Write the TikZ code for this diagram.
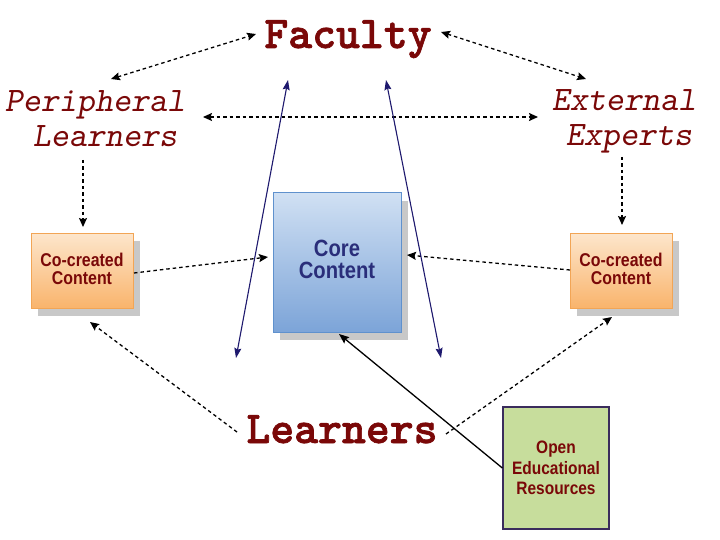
\documentclass[tikz,border=0pt]{standalone}
\usepackage{fontspec}
\setmainfont{Liberation Sans}
\newfontfamily\narrowfont[FakeStretch=0.86]{Liberation Sans}
\newfontfamily\ttheavy[FakeBold=1.5]{lmmonolt10-bold.otf}
\newfontfamily\ttslant{lmmonoslant10-regular.otf}
\usetikzlibrary{arrows.meta,shadows}
\definecolor{maroon}{RGB}{122,8,8}
\definecolor{coretext}{RGB}{42,46,122}
\definecolor{navyline}{RGB}{30,25,110}
\definecolor{shadowgray}{RGB}{200,200,200}
\definecolor{coretop}{RGB}{208,224,243}
\definecolor{corebot}{RGB}{124,164,216}
\definecolor{coreborder}{RGB}{95,145,205}
\definecolor{cotop}{RGB}{253,230,204}
\definecolor{cobot}{RGB}{249,180,108}
\definecolor{coborder}{RGB}{242,165,85}
\definecolor{oerfill}{RGB}{199,221,156}
\definecolor{oerborder}{RGB}{58,44,92}
\tikzset{
  bigword/.style={font=\ttheavy\fontsize{45.5}{45}\selectfont, text=maroon, inner sep=0pt},
  sideword/.style={font=\ttslant\fontsize{34.3}{35}\selectfont, text=maroon, inner sep=0pt, align=center},
  boxshadow/.style={drop shadow={shadow xshift=7pt,shadow yshift=-8pt,fill=shadowgray,opacity=1}},
  corebox/.style={boxshadow, draw=coreborder, line width=1pt, top color=coretop, bottom color=corebot,
     minimum width=128pt, minimum height=139pt, inner sep=0pt, align=center, text=coretext, text depth=7pt,
     font=\narrowfont\bfseries\fontsize{23.5}{22}\selectfont},
  cobox/.style={boxshadow, draw=coborder, line width=1pt, top color=cotop, bottom color=cobot,
     minimum width=102pt, minimum height=75pt, inner sep=0pt, align=center, text=maroon, text depth=4pt,
     font=\narrowfont\bfseries\fontsize{18.5}{18}\selectfont},
  oerbox/.style={draw=oerborder, line width=1.3pt, fill=oerfill,
     minimum width=106pt, minimum height=122pt, inner sep=0pt, align=center, text=maroon,
     font=\narrowfont\bfseries\fontsize{18}{20.5}\selectfont},
  dashlink/.style={line width=1.3pt, dash pattern=on 3.5pt off 3pt, -{Stealth[length=9pt,width=8pt,inset=1.5pt]}},
  dashboth/.style={dashlink, {Stealth[length=9pt,width=8pt,inset=1.5pt]}-{Stealth[length=9pt,width=8pt,inset=1.5pt]}},
  bluelink/.style={line width=1.1pt, draw=navyline, {Stealth[length=10pt,width=7pt,inset=1.5pt]}-{Stealth[length=10pt,width=7pt,inset=1.5pt]}},
  solidlink/.style={line width=1.3pt, -{Stealth[length=10pt,width=8pt,inset=1.5pt]}}
}
\begin{document}
\begin{tikzpicture}[x=1pt,y=-1pt]
\useasboundingbox[fill=white] (0,0) rectangle (720,540);

% text labels
\node[bigword, anchor=base] (fac) at (348,48) {Faculty};
\node[bigword, anchor=base] (lrn) at (342,443) {Learners};
\node[sideword] (per) at (95,118.5) {Peripheral\\\hspace*{20pt}Learners};
\node[sideword] (ext) at (624,121) {External\\\hspace*{10pt}Experts};

% boxes
\node[corebox] (core) at (337,262.5) {Core\\Content};
\node[cobox] (cl) at (82,270.5) {Co-created\\Content};
\node[cobox] (cr) at (621,270.5) {Co-created\\Content};
\node[oerbox] (oer) at (556,468) {Open\\Educational\\Resources};

% free ends
\coordinate (facL) at (256,34);
\coordinate (perR) at (111,79);
\coordinate (facR) at (441,32);
\coordinate (extL) at (586,79);
\coordinate (perE) at (203,117);
\coordinate (extW) at (538,117);
\coordinate (perS) at (83,160);
\coordinate (clN) at (83,227);
\coordinate (extS) at (622,157);
\coordinate (crN) at (622,225);
\coordinate (clE) at (134,273);
\coordinate (coreW) at (268,257);
\coordinate (crW) at (570,270);
\coordinate (coreE) at (407,255);
\coordinate (lrnW) at (237,432);
\coordinate (clS) at (90,322);
\coordinate (lrnE) at (446,434);
\coordinate (crS) at (612,317);
\coordinate (coreS) at (339,334);
\coordinate (blA) at (236,358);
\coordinate (blB) at (288,80);
\coordinate (brA) at (386,80);
\coordinate (brB) at (441,358);

% connectors
\draw[dashboth] (perR) -- (facL);
\draw[dashboth] (facR) -- (extL);
\draw[dashboth] (perE) -- (extW);
\draw[dashlink] (perS) -- (clN);
\draw[dashlink] (extS) -- (crN);
\draw[dashlink] (clE) -- (coreW);
\draw[dashlink] (crW) -- (coreE);
\draw[dashlink] (lrnW) -- (clS);
\draw[dashlink] (lrnE) -- (crS);
\draw[solidlink] (oer.west) -- (coreS);
\draw[bluelink] (blA) -- (blB);
\draw[bluelink] (brA) -- (brB);
\end{tikzpicture}
\end{document}
